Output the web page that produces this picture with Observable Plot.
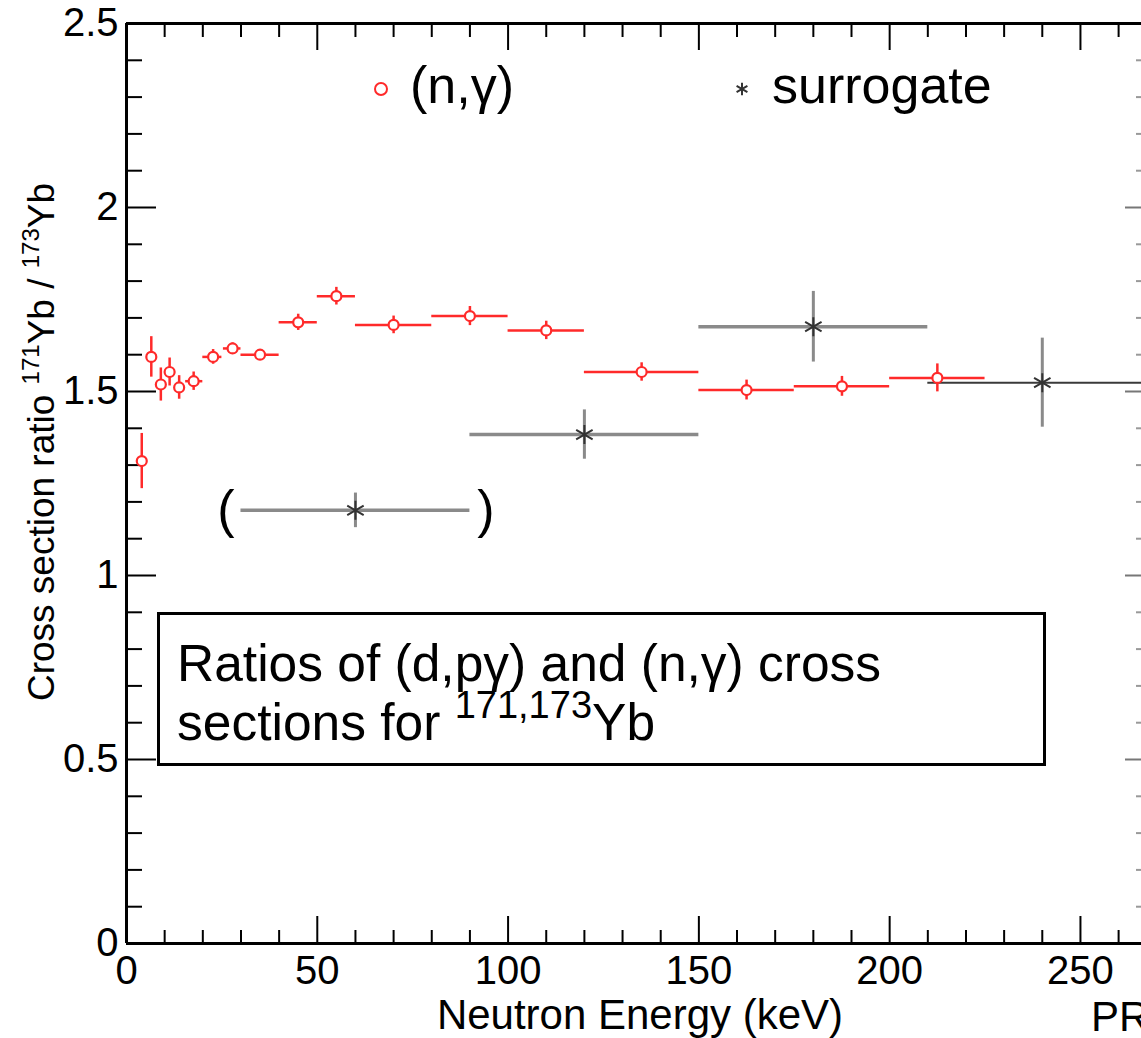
<!DOCTYPE html>
<html><head><meta charset="utf-8">
<script src="https://cdn.jsdelivr.net/npm/d3@7"></script>
<script src="https://cdn.jsdelivr.net/npm/@observablehq/plot@0.6"></script>
<style>html,body{margin:0;padding:0;background:#fff;overflow:hidden}</style>
</head><body><div id="chart"></div>
<script>
const FONT = "'Liberation Sans', Arial, Helvetica, sans-serif";

// (n,γ) ratios: bin centre, bin edges, ratio, error
const ngEnergy = [4, 6.5, 9, 11.3, 13.8, 17.6, 22.7, 27.8, 35, 45, 55, 70, 90, 110, 135, 162.5, 187.5, 212.5];
const ngLow    = [3, 5.5, 8, 10.3, 12.8, 15.5, 20, 25.4, 30, 40, 50, 60, 80, 100, 120, 150, 175, 200];
const ngHigh   = [5, 7.5, 10, 12.3, 14.8, 20, 25, 30, 40, 50, 60, 80, 100, 120, 150, 175, 200, 225];
const ngRatio  = [1.311, 1.594, 1.519, 1.553, 1.511, 1.528, 1.594, 1.617, 1.600, 1.688, 1.759, 1.681, 1.705, 1.666, 1.553, 1.504, 1.514, 1.537];
const ngError  = [0.075, 0.055, 0.045, 0.038, 0.032, 0.025, 0.02, 0.015, 0.012, 0.022, 0.024, 0.024, 0.026, 0.025, 0.025, 0.027, 0.027, 0.038];

// surrogate ratios
const sgEnergy = [60, 120, 180, 240];
const sgLow    = [30, 90, 150, 210];
const sgHigh   = [90, 150, 210, 270];
const sgRatio  = [1.177, 1.383, 1.676, 1.524];
const sgError  = [0.047, 0.067, 0.096, 0.121];
const sgBracketed = [true, false, false, false];

// axes
const xMajorTicks = [0, 50, 100, 150, 200, 250];
const xMinorTicks = [10, 20, 30, 40, 60, 70, 80, 90, 110, 120, 130, 140, 160, 170, 180, 190, 210, 220, 230, 240, 260];
const yMajorTicks = [0, 0.5, 1, 1.5, 2, 2.5];
const yMinorTicks = [0.1, 0.2, 0.3, 0.4, 0.6, 0.7, 0.8, 0.9, 1.1, 1.2, 1.3, 1.4, 1.6, 1.7, 1.8, 1.9, 2.1, 2.2, 2.3, 2.4];
const xTitle = "Neutron Energy (keV)";
const legendLabels = ["(n,γ)", "surrogate"];

const ng = ngEnergy.map((e, i) => ({e, lo: ngLow[i], hi: ngHigh[i], r: ngRatio[i], err: ngError[i]}));
const sg = sgEnergy.map((e, i) => ({e, lo: sgLow[i], hi: sgHigh[i], r: sgRatio[i], err: sgError[i], br: sgBracketed[i]}));

const red = "#ff2a2a";
const gray = "#8a8a8a";

const W = 1141, H = 1038, ML = 126, MR = 0, MT = 23, MB = 95;
const PW = W - ML - MR, PH = H - MT - MB; // inner frame size, used for tick lengths

const chart = Plot.plot({
  width: W, height: H,
  marginLeft: ML, marginRight: MR, marginTop: MT, marginBottom: MB,
  style: {fontFamily: FONT, fontSize: "40px", color: "#000", background: "#fff", overflow: "visible"},
  x: {domain: [0, 266]},
  y: {domain: [0, 2.5]},
  marks: [
    // inward ticks on all four sides
    Plot.tickX(xMajorTicks, {x: d => d, insetTop: PH - 27, stroke: "#000", strokeWidth: 2}),
    Plot.tickX(xMinorTicks, {x: d => d, insetTop: PH - 13, stroke: "#000", strokeWidth: 2}),
    Plot.tickX(xMajorTicks, {x: d => d, insetBottom: PH - 27, stroke: "#000", strokeWidth: 2}),
    Plot.tickX(xMinorTicks, {x: d => d, insetBottom: PH - 14, stroke: "#000", strokeWidth: 2}),
    Plot.tickY(yMajorTicks, {y: d => d, insetRight: PW - 30, stroke: "#000", strokeWidth: 2}),
    Plot.tickY(yMinorTicks, {y: d => d, insetRight: PW - 16, stroke: "#000", strokeWidth: 2}),
    Plot.tickY(yMajorTicks, {y: d => d, insetLeft: PW - 16, stroke: "#777", strokeWidth: 2}),
    Plot.tickY(yMinorTicks, {y: d => d, insetLeft: PW - 5, stroke: "#999", strokeWidth: 2}),
    // tick labels
    Plot.axisX(xMajorTicks, {anchor: "bottom", tickSize: 0, tickPadding: 12, tickFormat: d => String(d), label: null, fontSize: 40}),
    Plot.axisY(yMajorTicks, {anchor: "left", tickSize: 0, tickPadding: 8, tickFormat: d => String(d), label: null, fontSize: 40}),
    // frame (left, bottom, top)
    Plot.ruleX([0], {stroke: "#000", strokeWidth: 3}),
    Plot.ruleY([0, 2.5], {stroke: "#000", strokeWidth: 3}),
    // surrogate
    Plot.ruleY(sg.slice(0, 3), {y: "r", x1: "lo", x2: "hi", stroke: gray, strokeWidth: 3.5}),
    Plot.ruleY(sg.slice(3), {y: "r", x1: "lo", x2: "hi", stroke: "#3a3a3a", strokeWidth: 2, clip: true}),
    Plot.ruleX(sg, {x: "e", y1: d => d.r - d.err, y2: d => d.r + d.err, stroke: gray, strokeWidth: 3}),
    Plot.dot(sg, {x: "e", y: "r", symbol: "asterisk", r: 9, stroke: "#333", strokeWidth: 2}),
    Plot.text(sg.filter(d => d.br), {x: "lo", y: "r", text: () => "(", dx: -15, fontSize: 52, fill: "#000"}),
    Plot.text(sg.filter(d => d.br), {x: "hi", y: "r", text: () => ")", dx: 16, fontSize: 52, fill: "#000"}),
    // (n,γ)
    Plot.ruleY(ng, {y: "r", x1: "lo", x2: "hi", stroke: red, strokeWidth: 2.5}),
    Plot.ruleX(ng, {x: "e", y1: d => d.r - d.err, y2: d => d.r + d.err, stroke: red, strokeWidth: 2.5}),
    Plot.dot(ng, {x: "e", y: "r", r: 5, stroke: red, fill: "#fff", strokeWidth: 2.2})
  ]
});
document.getElementById("chart").appendChild(chart);

const svg = d3.select(chart);
const txt = (x, y, size) => svg.append("text").attr("x", x).attr("y", y)
  .attr("text-anchor", "start").attr("font-family", FONT).attr("font-size", size).attr("fill", "#000");

// y title with superscripts
const yt = svg.append("text").attr("transform", "translate(54,442) rotate(-90)")
  .attr("text-anchor", "middle").attr("font-family", FONT).attr("font-size", 37).attr("fill", "#000");
yt.append("tspan").text("Cross section ratio ");
yt.append("tspan").attr("font-size", 24).attr("dy", -15).text("171");
yt.append("tspan").attr("dy", 15).text("Yb / ");
yt.append("tspan").attr("font-size", 24).attr("dy", -15).text("173");
yt.append("tspan").attr("dy", 15).text("Yb");

// x title
txt(640, 1029, 42).attr("text-anchor", "middle").text(xTitle);

// legend
svg.append("circle").attr("cx", 381).attr("cy", 89).attr("r", 6).attr("fill", "none").attr("stroke", red).attr("stroke-width", 2);
txt(410, 103, 52).text(legendLabels[0]);
svg.append("path").attr("transform", "translate(742,89)").attr("d", d3.symbol(d3.symbolAsterisk, 110)())
  .attr("stroke", "#333").attr("stroke-width", 2).attr("fill", "none");
txt(772, 103, 52).text(legendLabels[1]);

// annotation box
svg.append("rect").attr("x", 158.5).attr("y", 613.5).attr("width", 886).attr("height", 151)
  .attr("fill", "#fff").attr("stroke", "#000").attr("stroke-width", 3);
txt(177, 681, 51.5).text("Ratios of (d,pγ) and (n,γ) cross");
const l2 = txt(177, 740, 51.5);
l2.append("tspan").text("sections for ");
l2.append("tspan").attr("font-size", 38).attr("dy", -22).text("171,173");
l2.append("tspan").attr("dy", 22).text("Yb");

// cut-off citation at the corner
txt(1091, 1031, 42).text("PR");
</script>
</body></html>
